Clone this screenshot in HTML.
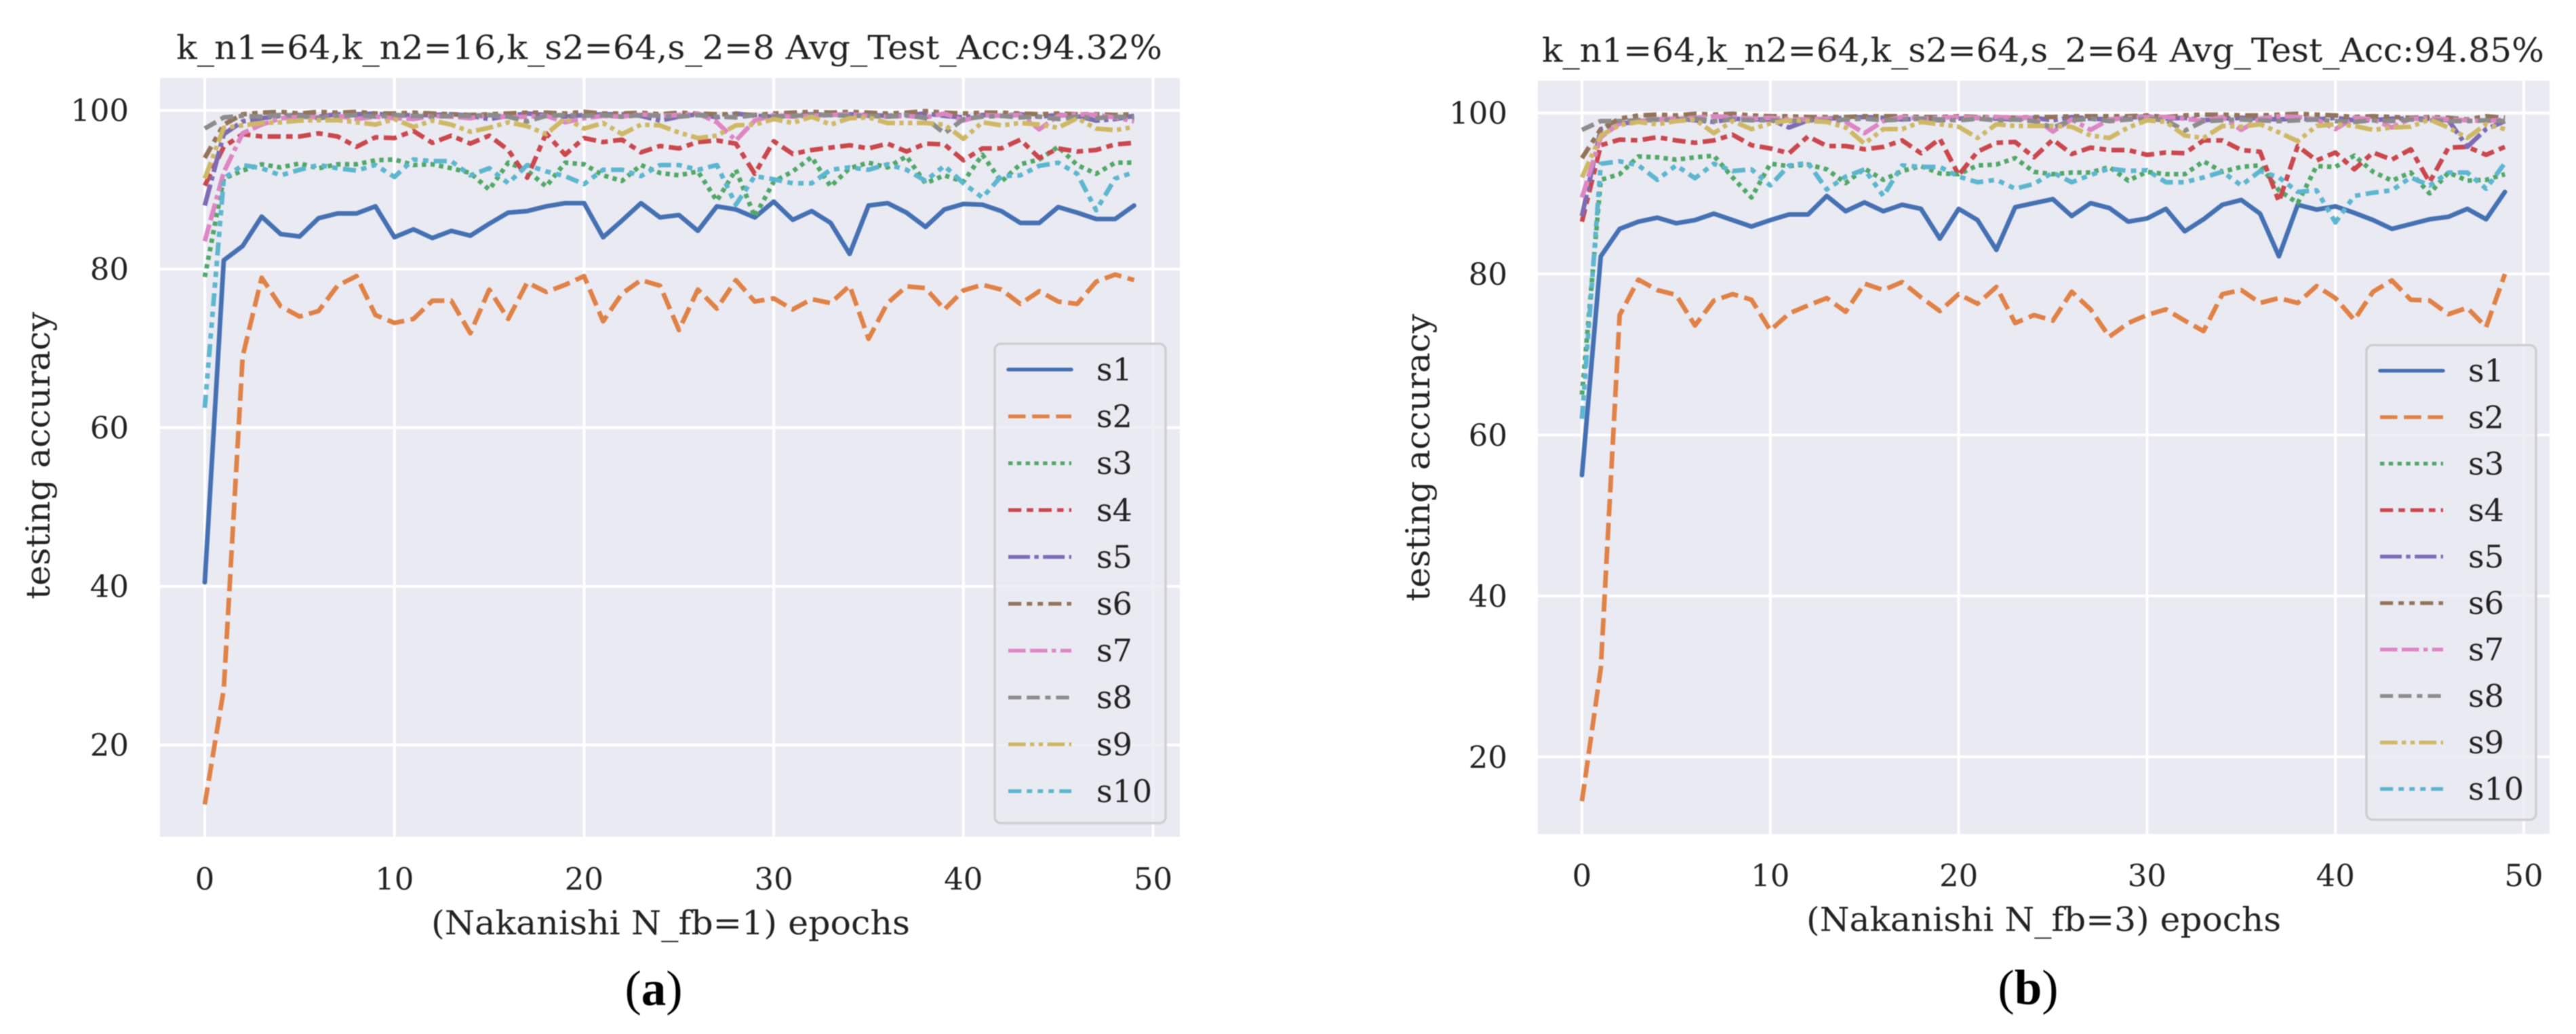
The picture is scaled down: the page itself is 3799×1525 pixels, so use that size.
<!DOCTYPE html>
<html lang="en">
<head>
<meta charset="utf-8">
<title>Testing accuracy per epoch for subjects s1 to s10</title>
<style>
html,body{margin:0;padding:0;background:#fff;}
body{width:3799px;height:1525px;overflow:hidden;}
svg{display:block;filter:blur(0.8px);}
text{font-family:"DejaVu Serif","Liberation Serif",serif;fill:#222;}
.cap{font-family:"Liberation Serif",serif;fill:#000;font-size:73px;}
</style>
</head>
<body>
<svg id="figure" xmlns="http://www.w3.org/2000/svg" width="3799" height="1525" viewBox="0 0 3799 1525">
  <g id="panel-a"></g>
  <g id="panel-b"></g>

  <text x="260" y="87" font-size="49" textLength="1454" lengthAdjust="spacingAndGlyphs">k_n1=64,k_n2=16,k_s2=64,s_2=8 Avg_Test_Acc:94.32%</text>
  <text x="989" y="1378" font-size="49" text-anchor="middle" textLength="706" lengthAdjust="spacingAndGlyphs">(Nakanishi N_fb=1) epochs</text>
  <text transform="translate(73,672) rotate(-90)" font-size="49" text-anchor="middle" textLength="424" lengthAdjust="spacingAndGlyphs">testing accuracy</text>
  <text class="cap" x="964" y="1482" text-anchor="middle">(<tspan font-weight="bold">a</tspan>)</text>

  <text x="2274" y="91" font-size="49" textLength="1478" lengthAdjust="spacingAndGlyphs">k_n1=64,k_n2=64,k_s2=64,s_2=64 Avg_Test_Acc:94.85%</text>
  <text x="3014" y="1373" font-size="49" text-anchor="middle" textLength="700" lengthAdjust="spacingAndGlyphs">(Nakanishi N_fb=3) epochs</text>
  <text transform="translate(2108,675) rotate(-90)" font-size="49" text-anchor="middle" textLength="424" lengthAdjust="spacingAndGlyphs">testing accuracy</text>
  <text class="cap" x="2991" y="1481" text-anchor="middle">(<tspan font-weight="bold">b</tspan>)</text>
</svg>
<script>
// Tick labels shared by both charts
const xTickLabels = [0, 10, 20, 30, 40, 50];
const yTickLabels = [20, 40, 60, 80, 100];
const seriesNames = ['s1','s2','s3','s4','s5','s6','s7','s8','s9','s10'];

// Chart (a): N_fb=1
const a_s1 = [40.5,81.1,82.9,86.6,84.4,84.1,86.4,87.0,87.0,87.9,84.0,85.0,83.9,84.8,84.2,85.7,87.1,87.3,87.9,88.3,88.3,84.0,86.1,88.3,86.5,86.8,84.8,87.9,87.5,86.5,88.5,86.2,87.3,85.8,81.9,88.0,88.3,87.1,85.3,87.5,88.2,88.1,87.3,85.8,85.8,87.8,87.1,86.3,86.3,88.0];
const a_s2 = [12.5,27.0,69.0,78.9,75.3,74.0,74.7,77.9,79.1,74.2,73.2,73.7,76.0,76.0,71.9,77.4,73.7,78.3,77.1,78.0,79.1,73.4,76.9,78.6,77.9,72.3,77.4,75.0,78.6,75.9,76.3,74.9,76.2,75.7,77.9,71.2,75.7,77.8,77.6,74.9,77.3,78.0,77.4,75.6,77.2,75.9,75.6,78.4,79.3,78.6];
const a_s3 = [79.0,91.4,92.4,93.2,92.8,93.3,92.7,93.2,93.2,93.7,93.8,93.1,93.2,92.7,92.1,90.0,93.4,92.4,90.4,93.4,93.2,91.8,91.1,93.1,92.1,91.8,92.3,88.6,92.5,86.6,91.0,92.3,94.1,90.4,92.7,93.4,92.8,94.2,90.8,91.8,91.0,94.4,91.0,93.2,93.8,95.4,93.1,92.0,93.4,93.4];
const a_s4 = [90.5,95.4,97.0,96.7,96.7,96.7,97.1,96.7,95.4,96.6,96.5,97.4,95.9,96.8,95.8,96.8,95.0,91.5,97.1,94.4,96.5,96.0,96.3,94.7,95.5,95.2,96.0,96.2,95.8,92.0,96.1,94.5,95.0,95.3,95.6,95.2,95.8,94.8,95.8,95.7,93.7,95.2,95.2,96.3,94.0,95.2,94.8,95.0,95.7,95.9];
const a_s5 = [88.0,97.0,98.6,99.0,99.3,99.4,99.2,99.5,99.5,99.6,99.3,99.4,99.4,99.5,99.3,98.9,99.3,99.6,99.4,99.2,99.4,99.5,99.5,99.3,98.7,99.2,99.5,99.1,99.6,99.3,99.2,99.4,99.5,99.4,99.5,99.4,99.3,99.4,99.6,99.3,99.1,99.4,99.3,99.5,99.2,99.4,99.3,98.7,98.9,99.3];
const a_s6 = [94.0,98.2,99.5,99.7,99.8,99.6,99.8,99.7,99.8,99.6,99.6,99.7,99.6,99.5,99.4,99.5,99.6,99.7,99.7,99.6,99.8,99.6,99.6,99.7,99.5,99.7,99.6,99.5,99.5,99.4,99.6,99.7,99.8,99.7,99.8,99.7,99.6,99.7,99.9,99.7,99.6,99.7,99.7,99.6,99.5,99.6,99.5,99.5,99.4,99.5];
const a_s7 = [83.5,92.2,97.1,98.2,99.0,99.2,99.1,99.3,98.9,99.2,99.0,98.9,99.3,99.2,99.0,99.4,99.1,99.2,99.3,98.5,99.0,99.3,99.2,99.5,99.3,99.4,99.6,98.5,96.2,98.7,99.4,99.2,99.3,99.4,99.5,99.3,99.2,99.3,99.1,99.6,98.7,99.4,99.3,99.4,97.6,99.3,99.5,99.4,99.1,98.6];
const a_s8 = [97.7,99.1,99.3,99.2,99.4,99.3,99.0,99.3,99.4,99.2,99.4,99.3,99.2,99.3,99.3,99.4,99.2,98.6,99.3,99.4,99.3,99.4,99.2,99.4,99.3,99.2,99.4,99.2,99.1,99.4,99.2,99.3,99.4,99.4,99.3,99.3,99.2,99.4,99.0,97.1,98.9,99.2,99.3,99.1,99.2,98.9,99.2,99.0,99.2,99.1];
const a_s9 = [91.4,97.8,98.1,98.4,98.5,98.7,98.75,98.75,98.5,98.2,98.9,97.9,98.7,98.2,97.3,97.8,98.5,98.0,97.0,99.0,97.7,98.4,97.0,98.2,98.1,97.2,96.5,96.8,98.1,98.2,98.9,98.4,99.2,98.2,99.0,99.1,98.4,98.4,98.4,98.2,96.4,98.5,98.1,98.4,98.2,97.8,99.0,97.7,97.5,97.9];
const a_s10 = [62.5,91.4,93.1,92.7,91.8,92.5,93.1,92.7,92.4,93.1,91.6,93.8,93.6,93.6,91.8,92.7,90.8,93.1,92.3,91.7,90.7,92.5,92.5,91.7,93.1,93.1,92.5,93.1,88.1,91.7,91.3,90.8,90.8,92.5,92.8,92.5,93.2,92.5,91.1,93.0,90.8,89.0,91.7,91.8,93.0,93.4,92.0,87.4,91.4,92.2];

// Chart (b): N_fb=3
const b_s1 = [55.0,82.2,85.6,86.5,87.0,86.3,86.7,87.5,86.7,85.9,86.7,87.4,87.4,89.7,87.8,88.9,87.8,88.6,88.1,84.4,88.1,86.7,83.0,88.3,88.8,89.3,87.2,88.8,88.2,86.5,86.9,88.1,85.3,86.8,88.6,89.2,87.5,82.2,88.6,88.0,88.4,87.6,86.7,85.6,86.2,86.8,87.1,88.1,86.8,90.2];
const b_s2 = [14.5,31.0,74.9,79.3,78.0,77.4,73.6,76.7,77.5,76.8,73.0,75.1,76.1,77.0,75.3,78.8,78.0,79.0,77.1,75.4,77.5,76.3,78.4,73.9,74.9,74.2,77.8,75.6,72.2,73.9,74.9,75.6,74.2,72.9,77.5,78.0,76.4,77.0,76.4,78.5,77.0,74.3,77.8,79.2,76.8,76.7,75.0,75.8,73.4,80.0];
const b_s3 = [65.0,91.7,92.4,94.6,94.5,94.2,94.5,94.7,92.0,89.5,93.7,93.4,93.6,93.0,91.3,93.1,91.7,92.8,93.4,92.5,92.4,93.5,93.6,94.4,92.7,92.4,92.6,92.6,93.3,91.6,92.7,92.4,92.4,94.0,92.7,93.3,93.5,90.4,88.8,93.4,93.3,94.7,92.7,91.6,92.6,90.0,92.6,91.6,91.7,92.4];
const b_s4 = [86.5,96.0,96.7,96.6,97.0,96.6,96.3,96.6,97.3,96.0,95.6,95.0,97.1,95.9,95.9,95.5,95.8,96.6,95.0,96.8,92.3,95.2,96.3,96.4,94.5,96.7,94.9,95.7,95.4,95.4,94.8,95.1,95.0,96.6,96.6,95.4,95.2,89.0,95.9,94.1,95.1,93.0,95.1,94.2,95.5,91.4,95.7,95.8,94.8,95.8];
const b_s5 = [87.2,98.0,98.7,98.9,99.2,99.3,99.1,98.9,99.3,99.2,99.2,98.2,99.1,99.3,99.4,99.5,99.4,99.2,99.3,99.1,99.3,99.4,99.3,99.2,99.4,99.1,99.5,99.3,99.2,99.4,99.6,99.3,99.4,99.1,99.3,99.4,99.3,99.2,99.3,99.2,99.4,99.1,99.1,99.3,99.3,99.3,99.1,95.8,98.0,99.0];
const b_s6 = [94.4,98.0,99.3,99.7,99.8,99.7,99.9,99.8,99.9,99.7,99.6,99.6,99.5,99.5,99.5,99.6,99.6,99.6,99.5,99.5,99.6,99.5,99.5,99.4,99.5,99.5,99.6,99.6,99.6,99.6,99.7,99.5,99.7,99.8,99.8,99.7,99.7,99.8,99.9,99.8,99.7,99.5,99.6,99.5,99.4,99.5,99.4,99.2,99.6,99.4];
const b_s7 = [89.5,97.0,98.7,99.0,99.2,99.3,99.4,99.6,99.5,99.3,99.4,99.2,99.2,99.3,98.9,97.5,99.0,99.5,99.3,99.4,99.5,99.4,99.5,99.4,99.4,97.7,99.2,97.9,99.2,99.4,99.5,99.5,99.3,99.0,99.5,97.9,99.3,99.6,99.5,99.2,98.0,99.4,99.2,98.2,99.3,99.4,99.2,99.1,99.0,99.2];
const b_s8 = [97.9,99.0,99.0,99.1,99.2,99.1,99.3,99.0,99.2,99.1,99.1,99.0,99.1,99.0,99.2,99.3,99.1,99.2,99.3,99.2,99.1,99.3,99.1,99.2,99.0,98.2,99.1,99.3,99.0,99.2,99.3,99.1,97.8,99.0,99.1,99.2,99.1,99.0,99.1,99.2,99.0,98.9,99.1,99.0,99.2,99.1,99.0,99.0,99.1,99.0];
const b_s9 = [92.0,97.2,98.5,98.9,98.6,99.0,99.2,97.5,99.0,98.0,98.7,99.1,99.0,98.9,98.2,96.2,98.0,98.0,98.9,98.6,98.3,96.9,98.6,98.4,98.4,98.4,98.3,97.2,96.9,98.2,99.1,98.9,97.2,96.9,98.4,98.3,98.6,97.6,96.5,98.4,98.6,98.4,97.9,98.2,98.3,99.2,98.2,96.9,98.6,98.0];
const b_s10 = [62.0,93.7,94.0,93.5,91.7,93.5,91.9,93.7,92.8,93.0,91.0,93.5,93.8,90.5,92.1,93.0,89.7,93.5,93.3,93.3,92.1,91.4,91.7,90.6,91.2,92.6,91.4,92.3,93.1,92.8,92.9,91.4,91.4,92.0,92.7,91.0,92.8,92.0,90.2,90.4,86.4,89.7,90.1,90.4,92.0,91.0,92.6,92.6,90.6,93.8];

const chartASeries = [a_s1,a_s2,a_s3,a_s4,a_s5,a_s6,a_s7,a_s8,a_s9,a_s10];
const chartBSeries = [b_s1,b_s2,b_s3,b_s4,b_s5,b_s6,b_s7,b_s8,b_s9,b_s10];

const COLORS = ['#4571b3','#e08146','#4fa866','#c9474d','#7d6bb5','#93745a','#dd86c4','#8c8c8c','#cfb865','#5cb6cf'];
const DASHES = [[],[4,1.5],[1,1],[3,1.25,1.5,1.25],[5,1,1,1],[3,1.25,1.25,1.25,1.25,1.25],[4,1,4,1,1,1],[3,1.25,3,1.25,1.25,1.25],[4,1,1,1,1,1],[3,1.25,1.25,1.25,1.25,1.25,1.25,1.25]];
const DASH_UNIT = 6.4;
const NS = 'http://www.w3.org/2000/svg';

function make(tag, attrs, parent){
  const el = document.createElementNS(NS, tag);
  for (const k in attrs) el.setAttribute(k, attrs[k]);
  parent.appendChild(el);
  return el;
}
function dashAttr(i){
  return DASHES[i].length ? DASHES[i].map(d => d * DASH_UNIT).join(' ') : 'none';
}

function drawChart(root, prefix, series, box, x, y, legendBox, tickY, labelRight, rowStart, rowStep){
  const bg = make('rect', {x:box.left, y:box.top, width:box.right-box.left, height:box.bottom-box.top, fill:'#eaeaf2'}, root);
  
  

  xTickLabels.forEach(t => {
    const g = make('line', {x1:x(t), x2:x(t), y1:box.top, y2:box.bottom, stroke:'#fff', 'stroke-width':4}, root);
    
    
    const l = make('text', {x:x(t), y:tickY, 'font-size':45, 'text-anchor':'middle'}, root);
    
    
    l.textContent = t;
  });
  yTickLabels.forEach(t => {
    const g = make('line', {x1:box.left, x2:box.right, y1:y(t), y2:y(t), stroke:'#fff', 'stroke-width':4}, root);
    
    
    const l = make('text', {x:labelRight, y:y(t)+16, 'font-size':45, 'text-anchor':'end'}, root);
    
    
    l.textContent = t;
  });

  series.forEach((vals, i) => {
    const d = vals.map((v, e) => (e ? 'L' : 'M') + x(e).toFixed(1) + ' ' + y(v).toFixed(1)).join(' ');
    const p = make('path', {d:d, fill:'none', stroke:COLORS[i], 'stroke-width':6.8, 'stroke-linejoin':'round', 'stroke-dasharray':dashAttr(i), 'stroke-linecap': i === 0 ? 'round' : 'butt'}, root);
    
    
  });

  const lg = make('g', {}, root);
  
  
  make('rect', {x:legendBox.left, y:legendBox.top, width:legendBox.right-legendBox.left, height:legendBox.bottom-legendBox.top, rx:9, ry:9, fill:'#eaeaf2', 'fill-opacity':0.8, stroke:'#cdcdd2', 'stroke-width':3.5}, lg);
  seriesNames.forEach((name, i) => {
    const ry = rowStart + i * rowStep;
    const h = make('line', {x1:legendBox.left+20, x2:legendBox.left+113, y1:ry, y2:ry, stroke:COLORS[i], 'stroke-width':5.5, 'stroke-dasharray':dashAttr(i), 'stroke-linecap': i === 0 ? 'round' : 'butt'}, lg);
    
    
    const t = make('text', {x:legendBox.left+150, y:ry+16, 'font-size':46}, lg);
    
    
    t.textContent = name;
  });
}

// Axis functions
const xA = e => 302 + 27.97 * e;
const yA = v => 162.7 + (100 - v) * 11.7;
const xB = e => 2333 + 27.78 * e;
const yB = v => 166.7 + (100 - v) * 11.87;

drawChart(document.getElementById('panel-a'), 'a', chartASeries,
  {left:236, right:1740, top:115, bottom:1234}, xA, yA,
  {left:1467, right:1719, top:507, bottom:1214}, 1312, 190, 545, 69.1);
drawChart(document.getElementById('panel-b'), 'b', chartBSeries,
  {left:2268, right:3760, top:119, bottom:1230}, xB, yB,
  {left:3490, right:3740, top:509, bottom:1209}, 1307, 2223, 546.7, 68.55);
</script>
</body>
</html>
